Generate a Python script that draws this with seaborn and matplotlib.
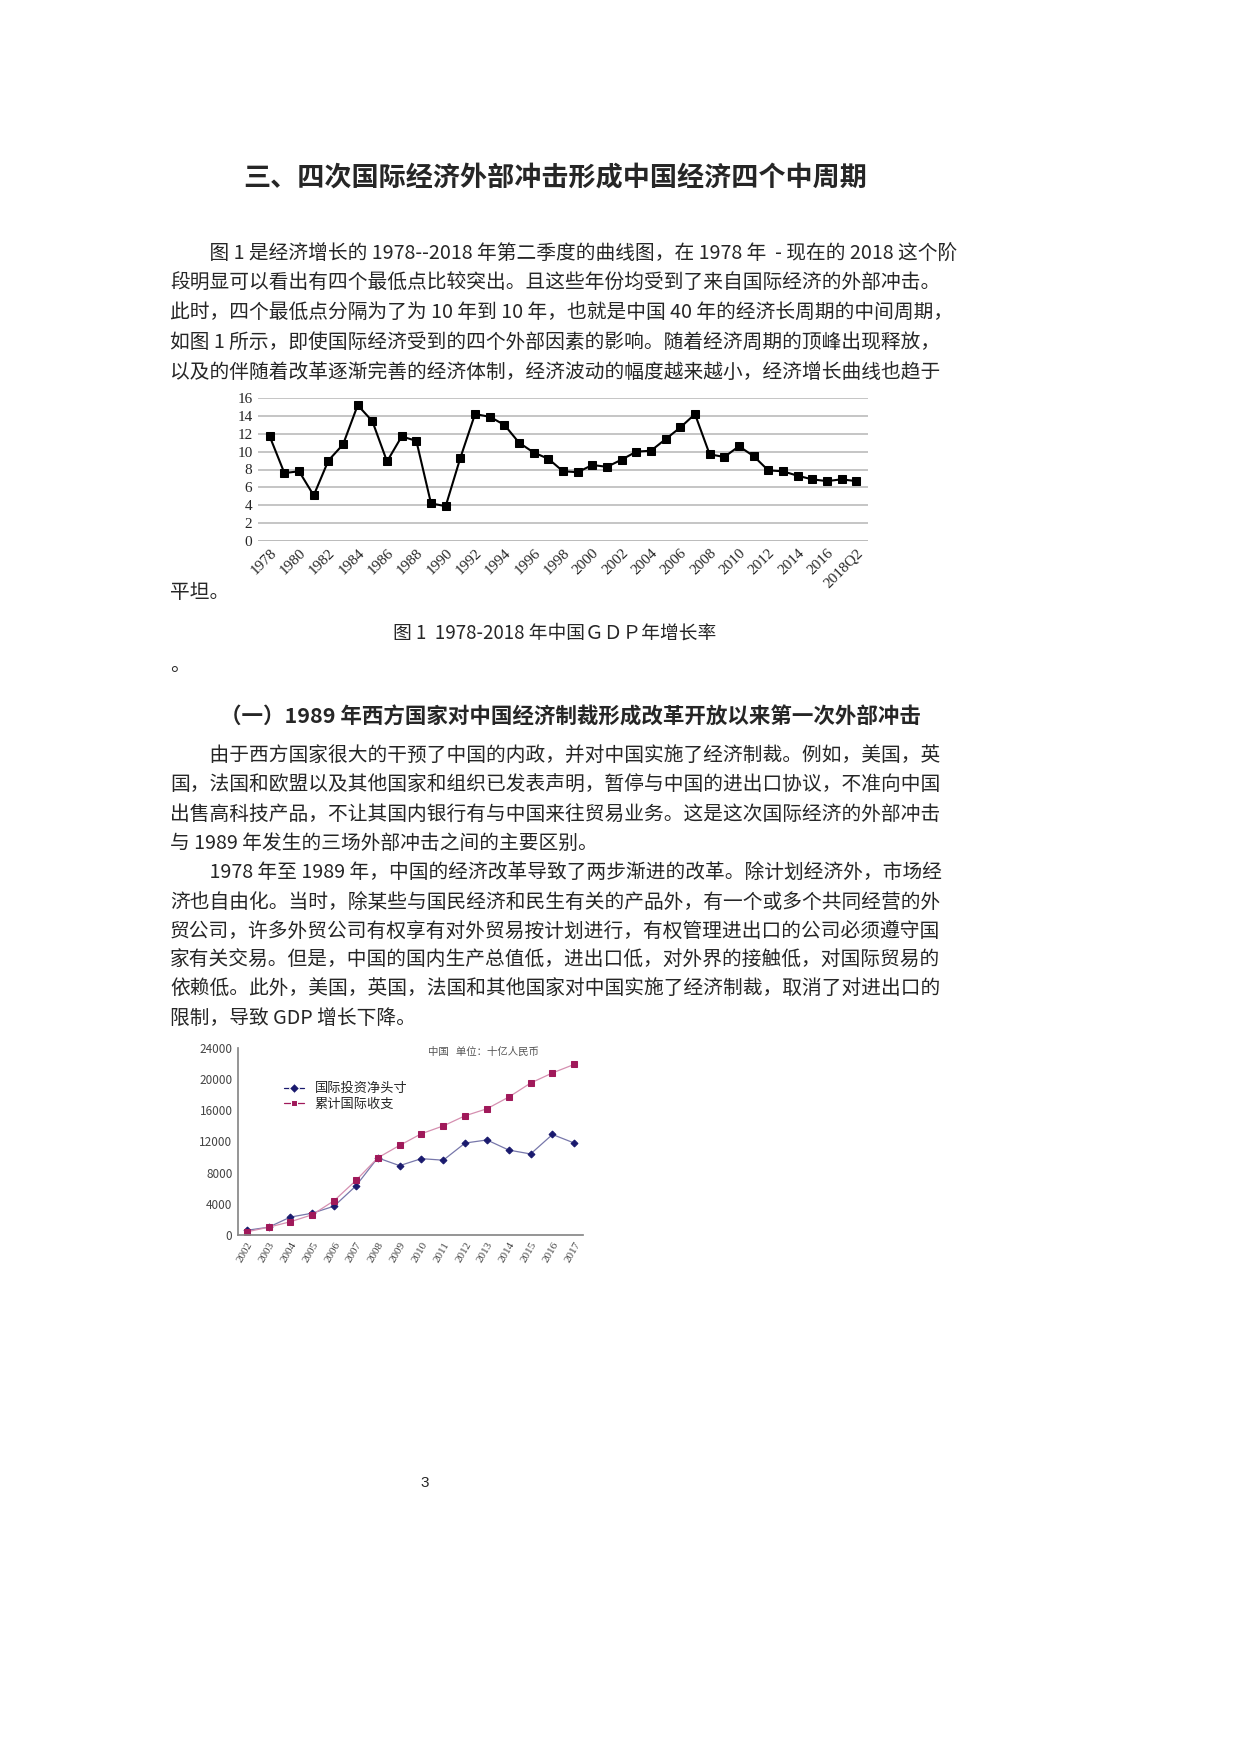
import matplotlib
matplotlib.use("Agg")
import matplotlib.pyplot as plt
import seaborn as sns
import pandas as pd

sns.set_theme(style="white")
plt.rcParams['font.family'] = ['Noto Sans CJK SC', 'DejaVu Sans']

# Chart 1 data
gdp_labels = [str(y) for y in range(1978, 2018)] + ["2018Q2"]
gdp_growth = [11.7, 7.6, 7.8, 5.1, 9.0, 10.8, 15.2, 13.4, 8.9, 11.7, 11.2, 4.2, 3.9, 9.3,
              14.2, 13.9, 13.0, 11.0, 9.9, 9.2, 7.8, 7.7, 8.5, 8.3, 9.1, 10.0, 10.1, 11.4,
              12.7, 14.2, 9.7, 9.4, 10.6, 9.5, 7.9, 7.8, 7.3, 6.9, 6.7, 6.9, 6.7]

# Chart 2 data
years2 = [str(y) for y in range(2002, 2018)]
net_iip = [600, 1000, 2300, 2800, 3700, 6300, 9900, 8900, 9800, 9600, 11800, 12200, 10900, 10400, 12900, 11800]
cum_bop = [400, 1000, 1700, 2600, 4400, 7000, 9900, 11500, 13000, 14000, 15300, 16200, 17700, 19500, 20800, 21900]

W, H = 1240, 1754
fig = plt.figure(figsize=(12.4, 17.54), dpi=100)

def T(x, y, s, **kw):
    fig.text(x / W, 1 - y / H, s, va='center', **kw)

T(555, 177, "三、四次国际经济外部冲击形成中国经济四个中周期", ha='center', fontsize=19.5, fontweight='bold')

body = 14.2
para1 = ["　　图 1 是经济增长的 1978--2018 年第二季度的曲线图，在 1978 年  - 现在的 2018 这个阶",
         "段明显可以看出有四个最低点比较突出。且这些年份均受到了来自国际经济的外部冲击。",
         "此时，四个最低点分隔为了为 10 年到 10 年，也就是中国 40 年的经济长周期的中间周期，",
         "如图 1 所示，即使国际经济受到的四个外部因素的影响。随着经济周期的顶峰出现释放，",
         "以及的伴随着改革逐渐完善的经济体制，经济波动的幅度越来越小，经济增长曲线也趋于"]
for i, s in enumerate(para1):
    T(170, 254 + i * 29.5, s, fontsize=body)
T(170, 593, "平坦。", fontsize=body)
T(555, 633, "图 1  1978-2018 年中国ＧＤＰ年增长率", ha='center', fontsize=13.5)
T(170, 665, "。", fontsize=body)
T(570, 717, "（一）1989 年西方国家对中国经济制裁形成改革开放以来第一次外部冲击", ha='center', fontsize=15.5, fontweight='bold')
para2 = ["　　由于西方国家很大的干预了中国的内政，并对中国实施了经济制裁。例如，美国，英",
         "国，法国和欧盟以及其他国家和组织已发表声明，暂停与中国的进出口协议，不准向中国",
         "出售高科技产品，不让其国内银行有与中国来往贸易业务。这是这次国际经济的外部冲击",
         "与 1989 年发生的三场外部冲击之间的主要区别。",
         "　　1978 年至 1989 年，中国的经济改革导致了两步渐进的改革。除计划经济外，市场经",
         "济也自由化。当时，除某些与国民经济和民生有关的产品外，有一个或多个共同经营的外",
         "贸公司，许多外贸公司有权享有对外贸易按计划进行，有权管理进出口的公司必须遵守国",
         "家有关交易。但是，中国的国内生产总值低，进出口低，对外界的接触低，对国际贸易的",
         "依赖低。此外，美国，英国，法国和其他国家对中国实施了经济制裁，取消了对进出口的",
         "限制，导致 GDP 增长下降。"]
for i, s in enumerate(para2):
    T(170, 756 + i * 29.2, s, fontsize=body)
T(425, 1483, "3", ha='center', fontsize=11, family=['Liberation Sans', 'DejaVu Sans'])

# Chart 1
ax1 = fig.add_axes([258 / W, 1 - 541 / H, 610 / W, 143 / H])
df1 = pd.DataFrame({"x": range(len(gdp_labels)), "v": gdp_growth})
sns.lineplot(data=df1, x="x", y="v", ax=ax1, color="black", lw=1.5, marker="s", markersize=6,
             markeredgecolor="black")
ax1.set_ylim(0, 16)
ax1.set_yticks(range(0, 17, 2))
ax1.set_xlim(-0.8, len(gdp_labels) - 0.2)
xt = list(range(0, 40, 2)) + [40]
ax1.set_xticks(xt)
ax1.set_xticklabels([gdp_labels[i] for i in xt], rotation=45, ha='right', rotation_mode='anchor',
                    fontsize=11, family=['Liberation Serif', 'DejaVu Serif'])
for lab in ax1.get_yticklabels():
    lab.set_fontsize(11); lab.set_family(['Liberation Serif', 'DejaVu Serif'])
ax1.yaxis.grid(True, color="#bbbbbb", lw=1.2)
for s in ax1.spines.values():
    s.set_visible(False)
ax1.axhline(0, color="#bbbbbb", lw=1.2)
ax1.set_xlabel(""); ax1.set_ylabel("")
ax1.tick_params(length=0, pad=4)

# Chart 2
ax2 = fig.add_axes([238 / W, 1 - 1235 / H, 345 / W, 187 / H])
df2 = pd.DataFrame({"year": list(range(len(years2))) * 2,
                    "v": net_iip + cum_bop,
                    "s": ["国际投资净头寸"] * 16 + ["累计国际收支"] * 16})
sns.lineplot(data=df2, x="year", y="v", hue="s", style="s", markers={"国际投资净头寸": "D", "累计国际收支": "s"},
             dashes=False, palette={"国际投资净头寸": "#1a1a6e", "累计国际收支": "#a0195a"},
             ax=ax2, lw=0.9, markersize=5, legend=True)
for l, c in zip(ax2.lines[:2], ["#7777aa", "#d58fb0"]):
    l.set_color(c)
ax2.lines[0].set_markerfacecolor("#1a1a6e"); ax2.lines[0].set_markeredgecolor("#1a1a6e"); ax2.lines[0].set_markersize(3.5)
ax2.lines[1].set_markerfacecolor("#a0195a"); ax2.lines[1].set_markeredgecolor("#a0195a")
ax2.set_ylim(0, 24000)
ax2.set_yticks(range(0, 24001, 4000))
ax2.set_xlim(-0.4, 15.4)
ax2.set_xticks(range(16))
ax2.set_xticklabels(years2, rotation=60, ha='right', rotation_mode='anchor', fontsize=8,
                    family=['Liberation Serif', 'DejaVu Serif'])
for lab in ax2.get_yticklabels():
    lab.set_fontsize(8.5)
ax2.set_xlabel(""); ax2.set_ylabel("")
for k in ["top", "right"]:
    ax2.spines[k].set_visible(False)
ax2.spines["left"].set_color("#888888"); ax2.spines["bottom"].set_color("#888888")
ax2.tick_params(length=2, colors="#444444", pad=2)
leg = ax2.legend(loc="upper left", bbox_to_anchor=(0.1, 0.88), frameon=False, fontsize=9.5, title=None,
                 handlelength=1.5, labelspacing=0.2)
ax2.text(0.55, 0.98, "中国   单位：十亿人民币", transform=ax2.transAxes, fontsize=7.5, color="#555555", va='center')

fig.savefig("out.png", dpi=100)
